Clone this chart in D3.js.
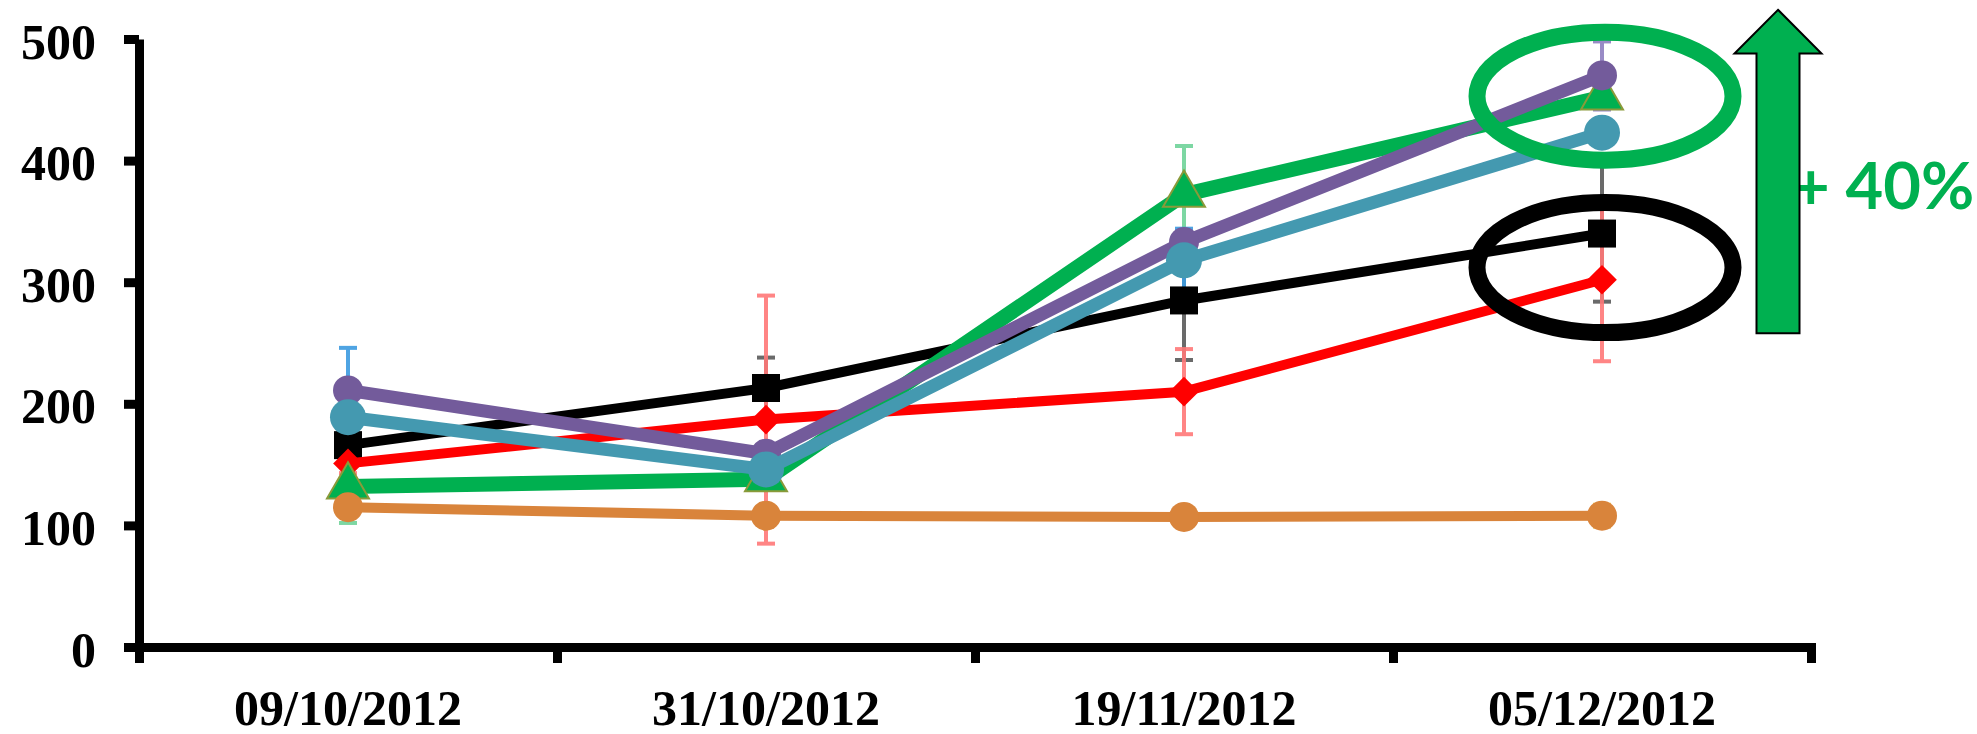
<!DOCTYPE html>
<html lang="en">
<head>
    <meta charset='utf-8'>
    <title>Growth by date</title>
    <script src="https://cdn.jsdelivr.net/npm/d3@7"></script>
    <style>
        html, body { margin: 0; padding: 0; background: #fff; }
        svg { display: block; }
    </style>
</head>
<body>
<svg></svg>
<script>
    // data
    const dates = ["09/10/2012", "31/10/2012", "19/11/2012", "05/12/2012"]
    const yTicks = [0, 100, 200, 300, 400, 500]

    const blackValues  = [166, 213, 285, 340]
    const redValues    = [151, 187, 210, 302]
    const greenValues  = [132, 138, 372, 452]
    const purpleValues = [211, 159, 333, 470]
    const tealValues   = [189, 146, 318, 423]
    const orangeValues = [115, 108, 107, 108]

    const blackErrors  = [8, 25, 49, 56]
    const redErrors    = [8, 102, 35, 67]
    const greenErrors  = [30, 8, 40, 8]
    const purpleErrors = [8, 8, 8, 28]
    const tealErrors   = [57, 8, 26, 8]
    const orangeErrors = [4, 8, 3, 9]

    const increaseLabel = "+ 40%"

    const width = 1977
    const height = 734
    const margin = ({top: 39, right: 166, bottom: 87, left: 139})

    const series = [
        {values: blackValues,  errors: blackErrors,  color: "#000000", err: "#5a5a5a", width: 10, shape: "square"},
        {values: redValues,    errors: redErrors,    color: "#ff0000", err: "#ff7878", width: 10, shape: "diamond"},
        {values: greenValues,  errors: greenErrors,  color: "#00b050", err: "#70d39a", width: 15, shape: "triangle"},
        {values: purpleValues, errors: purpleErrors, color: "#735b9b", err: "#8f7fc0", width: 13, shape: "circle", r: 15},
        {values: tealValues,   errors: tealErrors,   color: "#4499b0", err: "#3c9be0", width: 13, shape: "circle", r: 18},
        {values: orangeValues, errors: orangeErrors, color: "#d9843b", err: "#f2c64a", width: 10, shape: "circle", r: 15},
    ]

    const svg = d3.select("svg")
        .attr("width", width)
        .attr("height", height)
        .attr("viewBox", [0, 0, width, height])

    const x = d3.scaleBand()
        .domain(dates)
        .range([margin.left, width - margin.right])

    const xEdges = d3.scaleLinear()
        .domain([0, dates.length])
        .range([margin.left, width - margin.right])

    const y = d3.scaleLinear()
        .domain([0, 500])
        .range([height - margin.bottom, margin.top])

    const cx = d => x(d) + x.bandwidth() / 2
    const serifFont = "'Liberation Serif', 'Times New Roman', serif"

    // axes
    const yAxis = g => g
        .attr("transform", `translate(${margin.left},0)`)
        .call(d3.axisLeft(y).tickValues(yTicks).tickSize(15).tickSizeOuter(0).tickPadding(28))
        .call(g => g.selectAll("line, path").attr("stroke", "#000").attr("stroke-width", 9))
        .call(g => g.selectAll("text")
            .attr("font-family", serifFont)
            .attr("font-weight", "bold")
            .attr("font-size", 50)
            .attr("fill", "#000")
            .attr("dy", "0.38em"))

    const xTicks = g => g
        .attr("transform", `translate(0,${y(0)})`)
        .call(d3.axisBottom(xEdges).tickValues(d3.range(dates.length + 1)).tickSize(16).tickSizeOuter(16).tickFormat(""))
        .call(g => g.selectAll("line, path").attr("stroke", "#000").attr("stroke-width", 9))

    const xLabels = g => g
        .attr("transform", `translate(0,${y(0)})`)
        .call(d3.axisBottom(x).tickSize(0).tickPadding(42))
        .call(g => g.select(".domain").remove())
        .call(g => g.selectAll("text")
            .attr("font-family", serifFont)
            .attr("font-weight", "bold")
            .attr("font-size", 50)
            .attr("fill", "#000"))

    svg.append("g").call(xTicks)
    svg.append("g").call(xLabels)
    svg.append("g").call(yAxis)

    // error bars sit behind the lines
    const errorG = svg.append("g")
    series.forEach(s => {
        const g = errorG.append("g")
            .attr("stroke", s.err)
            .attr("stroke-width", 4)
            .attr("opacity", 0.9)
        dates.forEach((d, i) => {
            const lo = y(s.values[i] - s.errors[i])
            const hi = y(s.values[i] + s.errors[i])
            g.append("line").attr("x1", cx(d)).attr("x2", cx(d)).attr("y1", lo).attr("y2", hi)
            g.append("line").attr("x1", cx(d) - 9).attr("x2", cx(d) + 9).attr("y1", lo).attr("y2", lo)
            g.append("line").attr("x1", cx(d) - 9).attr("x2", cx(d) + 9).attr("y1", hi).attr("y2", hi)
        })
    })

    const line = d3.line()
        .x((v, i) => cx(dates[i]))
        .y(v => y(v))

    const markerPath = s => {
        if (s.shape === "square") return d3.symbol().type(d3.symbolSquare).size(28 * 28)()
        if (s.shape === "diamond") return d3.symbol().type(d3.symbolSquare).size(21 * 21)()
        if (s.shape === "triangle") return d3.symbol().type(d3.symbolTriangle).size(Math.sqrt(3) / 4 * 42 * 42)()
        return d3.symbol().type(d3.symbolCircle).size(Math.PI * s.r * s.r)()
    }

    series.forEach(s => {
        const g = svg.append("g")

        g.append("path")
            .attr("d", line(s.values))
            .attr("fill", "none")
            .attr("stroke", s.color)
            .attr("stroke-width", s.width)
            .attr("stroke-linejoin", "round")
            .attr("stroke-linecap", "round")

        g.selectAll(".marker")
            .data(s.values)
            .join("path")
            .attr("class", "marker")
            .attr("d", markerPath(s))
            .attr("transform", (v, i) => `translate(${cx(dates[i])},${y(v)})` + (s.shape === "diamond" ? " rotate(45)" : ""))
            .attr("fill", s.color)
            .attr("stroke", s.shape === "triangle" ? "#8a9a3a" : "none")
            .attr("stroke-width", 2)
    })

    // annotations: ellipses round the last date, arrow and label
    const lastX = cx(dates[dates.length - 1])

    svg.append("ellipse")
        .attr("cx", lastX + 3)
        .attr("cy", y(453))
        .attr("rx", 128)
        .attr("ry", 64)
        .attr("fill", "none")
        .attr("stroke", "#00b050")
        .attr("stroke-width", 17)

    svg.append("ellipse")
        .attr("cx", lastX + 3)
        .attr("cy", y(312))
        .attr("rx", 128)
        .attr("ry", 65)
        .attr("fill", "none")
        .attr("stroke", "#000")
        .attr("stroke-width", 17)

    svg.append("text")
        .attr("x", lastX + 190)
        .attr("y", y(360))
        .attr("font-family", "Lato, 'Open Sans', sans-serif")
        .attr("font-weight", "bold")
        .attr("font-size", 65)
        .attr("fill", "#00b050")
        .text(increaseLabel)

    const ax = lastX + 176
    const tipY = y(524)
    const headY = y(488)
    const baseY = y(258)
    svg.append("path")
        .attr("d", `M${ax},${tipY} L${ax + 43.5},${headY} L${ax + 21.5},${headY} L${ax + 21.5},${baseY}
                    L${ax - 21.5},${baseY} L${ax - 21.5},${headY} L${ax - 43.5},${headY} Z`)
        .attr("fill", "#00b050")
        .attr("stroke", "#000")
        .attr("stroke-width", 2)
        .attr("stroke-linejoin", "miter")
</script>
</body>
</html>
